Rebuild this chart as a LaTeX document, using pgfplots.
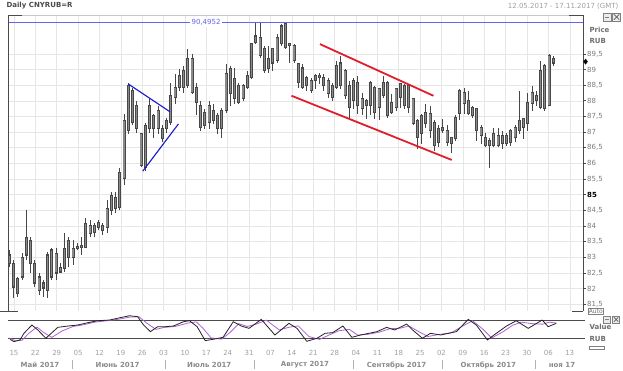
\documentclass[border=0pt]{standalone}
\usepackage{pgfplots}
\pgfplotsset{compat=1.18}
\usepackage{pgfplotstable}
\usepackage{fontspec}
\setmainfont{DejaVu Sans}
\definecolor{gridcol}{HTML}{E6E6E6}
\definecolor{axdark}{HTML}{4A4A4A}
\definecolor{ticklab}{HTML}{7A7A7A}
\definecolor{lvlblue}{HTML}{6464EE}
\definecolor{trblue}{HTML}{1818C8}
\definecolor{trred}{HTML}{E01E2C}
\definecolor{candleout}{HTML}{474747}
\definecolor{candlein}{HTML}{8A8A8A}
\definecolor{stK}{HTML}{222222}
\definecolor{stD}{HTML}{B05FD6}
\definecolor{datecol}{HTML}{A0A0A0}
\definecolor{monthcol}{HTML}{8A8A8A}

\pgfplotstableread{
k H L T B
0 83.23 82.68 83.07 82.81
1 82.91 81.70 82.81 82.05
2 82.37 81.73 82.33 81.85
3 83.13 82.27 83.00 82.37
4 84.50 82.91 83.64 83.07
5 83.64 82.50 83.54 82.81
6 82.91 82.05 82.81 82.18
7 82.50 81.79 82.37 81.95
8 82.27 81.73 82.18 82.02
9 83.16 81.70 83.07 81.95
10 83.29 82.27 83.23 82.37
11 83.29 82.27 83.13 82.50
12 82.81 82.50 82.68 82.53
13 83.77 82.53 83.29 82.65
14 83.64 82.68 83.54 83.00
15 83.54 82.75 83.29 83.00
16 83.45 83.23 83.35 83.29
17 83.64 83.07 83.38 83.32
18 84.25 83.29 84.09 83.32
19 84.18 83.64 84.02 83.77
20 84.09 83.64 84.02 83.80
21 84.18 83.86 84.12 83.96
22 84.09 83.70 84.02 83.86
23 84.82 83.77 84.56 83.96
24 85.07 84.34 84.98 84.50
25 85.07 84.40 84.92 84.56
26 85.84 84.50 85.71 84.60
27 87.59 85.30 87.37 85.52
28 88.58 86.95 88.48 87.05
29 88.42 87.21 88.32 87.30
30 88.00 86.98 87.84 87.11
31 86.98 85.87 86.95 85.93
32 87.30 85.77 87.21 85.87
33 88.07 86.98 87.84 87.11
34 87.59 86.82 87.53 87.11
35 87.84 86.95 87.68 87.11
36 87.21 86.67 87.11 86.79
37 87.46 86.98 87.37 87.11
38 88.58 87.21 88.16 87.30
39 88.86 87.91 88.42 88.10
40 89.02 88.32 88.80 88.42
41 89.12 88.26 88.96 88.42
42 89.66 88.42 89.34 88.48
43 89.50 88.23 89.34 88.26
44 88.58 87.53 88.42 87.94
45 88.00 87.05 87.84 87.14
46 87.75 87.11 87.62 87.21
47 88.00 87.11 87.84 87.30
48 87.91 87.27 87.68 87.37
49 87.62 86.95 87.53 87.11
50 87.78 86.82 87.68 87.11
51 89.18 87.62 88.86 87.68
52 89.12 87.84 89.02 88.23
53 89.05 87.91 88.70 88.07
54 88.58 87.91 88.48 87.94
55 88.55 88.00 88.48 88.07
56 88.96 88.39 88.80 88.42
57 89.85 88.70 89.82 88.74
58 90.49 89.82 90.07 89.85
59 90.49 89.37 90.01 89.44
60 89.76 88.90 89.66 88.96
61 89.76 88.90 89.34 89.02
62 89.69 88.96 89.66 89.21
63 90.14 89.21 90.01 89.28
64 90.46 89.76 90.39 89.82
65 90.49 89.66 90.46 89.69
66 89.85 89.21 89.82 89.76
67 89.82 89.21 89.76 89.28
68 89.21 88.42 89.18 88.58
69 89.18 88.39 89.05 88.42
70 88.80 88.32 88.74 88.48
71 88.74 88.26 88.64 88.32
72 88.86 88.39 88.80 88.64
73 88.90 88.55 88.80 88.74
74 88.86 88.32 88.74 88.48
75 88.74 88.10 88.64 88.23
76 88.58 88.00 88.48 88.10
77 89.28 88.39 89.12 88.42
78 89.44 88.39 89.21 88.48
79 89.02 88.07 88.96 88.16
80 88.64 87.46 88.48 87.78
81 88.74 87.75 88.64 88.00
82 88.80 87.59 88.58 87.84
83 88.26 87.53 88.07 87.75
84 88.07 87.43 88.00 87.84
85 88.64 87.53 88.58 87.84
86 88.48 87.43 88.42 87.62
87 88.42 87.37 88.39 87.78
88 88.80 88.10 88.58 88.16
89 88.64 87.46 88.58 87.53
90 88.23 87.59 87.94 87.62
91 88.42 87.68 88.39 87.78
92 88.58 87.78 88.55 88.10
93 88.55 87.75 88.48 87.84
94 88.55 87.62 88.48 87.78
95 88.10 87.21 88.07 87.27
96 87.43 86.47 87.37 86.82
97 87.59 86.63 87.53 86.95
98 87.91 87.14 87.62 87.27
99 87.84 86.82 87.59 87.05
100 87.37 86.41 87.30 86.57
101 87.21 86.51 87.11 86.67
102 87.43 86.98 87.14 87.05
103 87.21 86.57 87.05 86.67
104 86.82 86.32 86.82 86.63
105 87.53 86.73 87.46 86.79
106 88.39 87.37 88.32 87.59
107 88.42 87.59 88.26 87.91
108 88.32 87.53 88.00 87.59
109 87.84 87.46 87.78 87.53
110 87.78 86.73 87.75 87.05
111 87.21 86.63 87.14 86.89
112 86.98 86.51 86.82 86.57
113 86.82 85.84 86.73 86.57
114 87.14 86.51 86.95 86.57
115 87.14 86.51 86.89 86.57
116 87.05 86.47 86.89 86.63
117 86.98 86.57 86.89 86.63
118 87.11 86.57 87.05 86.67
119 87.21 86.67 87.14 86.82
120 88.32 86.95 87.37 87.05
121 87.46 86.79 87.43 87.14
122 88.26 87.05 87.94 87.27
123 88.48 87.68 88.26 87.91
124 88.32 87.84 88.16 88.00
125 89.28 87.75 88.96 87.78
126 89.18 87.68 89.12 87.75
127 89.50 87.84 89.44 87.84
128 89.44 89.12 89.34 89.21
}\candles

\pgfplotstableread{
x v
0.16 15.4
1.09 7.3
2.5 13.1
3.44 36.2
5.32 65.1
6.72 47.8
8.6 18.9
11.4 57
13.76 61.6
16.1 65.1
18.45 73.2
20.8 80.1
23.6 82.5
26.4 91.7
28.3 97.5
30.2 94
31.6 65.1
33.2 42
34.9 59.3
36.7 59.3
38.6 61.6
41 76.7
42.4 80.1
44.2 59.3
46.1 10.7
48 15.4
50.3 22.3
52.7 76.7
54.6 61.6
56.4 53.5
59.3 84.8
62.5 30.4
65.8 70.9
67.7 53.5
70 8.4
72.4 18.9
74.3 36.2
76.1 38.5
78.5 61.6
80.6 22.3
82.7 30.4
84.6 36.2
86.5 42
88.8 57
90.7 47.8
93.5 68.6
94.9 47.8
97.2 18.9
99.1 36.2
101.5 30.4
105.2 42
108 84.8
109.9 65.1
112.5 13.1
114.6 36.2
117 61.6
119.3 80.1
122.1 53.5
125.4 82.5
126.8 59.3
128.7 70.9
}\stochK

\pgfplotstableread{
x v
0 20
1.5 10
3 12
4.5 35
6.5 58
8 40
10 22
12.5 45
15 60
17.5 66
20 75
23 80
26 86
28.5 93
30.5 94
32.5 70
34.5 50
36.5 57
39 60
42 72
44 76
45.5 55
47.5 20
50 16
52 40
54 70
56 60
58 68
60.5 82
63.5 48
66 58
68 62
70.5 25
73 15
75.5 32
77.5 45
80 50
82 30
84.5 33
87 40
89.5 52
92 54
94 62
96 45
98.5 25
101 32
104 38
106.5 60
109 80
111.5 50
113.5 20
116 40
118.5 65
120.5 75
123 70
125.5 68
127 75
128.7 72
}\stochD

\pgfplotsset{every tick label/.append style={font=\fontsize{7}{8}\selectfont}}

\begin{document}
\begin{tikzpicture}[font=\fontsize{7}{8}\selectfont]
\path[use as bounding box] (0pt,0pt) rectangle (623pt,370pt);

% ---------- main price panel ----------
\begin{axis}[
  at={(8pt,59pt)}, anchor=south west, scale only axis,
  width=575pt, height=296pt,
  xmin=-0.31, xmax=135, ymin=81.284, ymax=90.74,
  axis line style={draw=none},
  xtick={1.1,6.13,11.16,16.19,21.22,26.25,31.28,36.31,41.34,46.37,51.4,56.43,61.46,66.49,71.52,76.55,81.58,86.61,91.64,96.67,101.7,106.73,111.76,116.79,121.82,126.85,131.88},
  xticklabels={}, xtick style={draw=none},
  ytick={81.5,82,82.5,83,83.5,84,84.5,85,85.5,86,86.5,87,87.5,88,88.5,89,89.5},
  yticklabels={{81,5},82,{82,5},83,{83,5},84,{84,5},{\color{black}\bfseries 85},{85,5},86,{86,5},87,{87,5},88,{88,5},89,{89,5}},
  ytick pos=right, yticklabel pos=right, tick align=outside,
  major tick length=3pt, ytick style={draw=axdark, line width=0.6pt},
  yticklabel style={text=ticklab, anchor=west, inner sep=1pt},
  grid=major, major grid style={draw=gridcol, line width=0.5pt},
  clip=false,
]
% wicks
\addplot[candleout, line width=0.8pt, mark=none, quiver={u=0, v=\thisrow{H}-\thisrow{L}}]
  table[x=k, y=L] {\candles};
% bodies
\addplot[candleout, line width=3pt, mark=none, quiver={u=0, v=\thisrow{T}-\thisrow{B}+0.04}]
  table[x=k, y expr={\thisrow{B}-0.02}] {\candles};
\addplot[candlein, line width=1.3pt, mark=none, quiver={u=0, v={max(\thisrow{T}-\thisrow{B}-0.04,0)}}]
  table[x=k, y expr={\thisrow{B}+0.02}] {\candles};

% level line
\addplot[lvlblue, line width=1pt] coordinates {(-0.31,90.4952) (135,90.4952)};
\node[fill=white, text=lvlblue, inner sep=1.5pt] at (axis cs:46.3,90.4952) {90,4952};

% blue triangle
\addplot[trblue, line width=1.1pt] coordinates {(28.0,88.535) (37.8,87.65)};
\addplot[trblue, line width=1.1pt] coordinates {(31.4,85.75) (39.8,87.26)};
% red channel
\addplot[trred, line width=1.8pt] coordinates {(73.1,89.81) (99.8,88.16)};
\addplot[trred, line width=1.8pt] coordinates {(66.4,88.16) (104.1,86.11)};

% current price marker
\addplot[only marks, mark=diamond*, mark size=2.6pt, black] coordinates {(135.6,89.25)};

% frame
\draw[gridcol!70!gray, line width=0.6pt] (rel axis cs:0,1) -- (rel axis cs:1,1);
\draw[axdark, line width=0.8pt] (rel axis cs:0,0) -- (rel axis cs:0,1) -- ++(14pt,0pt);
\draw[axdark, line width=0.8pt] (rel axis cs:1,0) -- (rel axis cs:1,1) -- ++(-14pt,0pt);
\end{axis}

% ---------- stochastic panel ----------
\begin{axis}[
  at={(8pt,24pt)}, anchor=south west, scale only axis,
  width=575pt, height=33pt,
  xmin=-0.31, xmax=135, ymin=-8, ymax=107,
  axis line style={draw=none},
  ytick=\empty,
  xtick={1.1,6.13,11.16,16.19,21.22,26.25,31.28,36.31,41.34,46.37,51.4,56.43,61.46,66.49,71.52,76.55,81.58,86.61,91.64,96.67,101.7,106.73,111.76,116.79,121.82,126.85,131.88},
  xticklabels={15,22,29,05,12,19,26,03,10,17,24,31,07,14,21,28,04,11,18,25,02,09,16,23,30,06,13},
  xtick style={draw=none},
  xticklabel style={text=datecol, inner sep=2pt, yshift=-2pt},
  clip=false,
]
\addplot[axdark, line width=0.8pt] coordinates {(-0.31,80) (135.5,80)};
\addplot[axdark, line width=0.8pt] coordinates {(-0.31,20) (135.5,20)};
\addplot[stD, line width=0.8pt] table[x=x, y=v] {\stochD};
\addplot[stK, line width=0.8pt] table[x=x, y=v] {\stochK};
\end{axis}

% ---------- texts and decorations ----------
\node[anchor=west, text=axdark, font=\fontsize{7}{8}\selectfont\bfseries] at (3pt,364pt) {Daily CNYRUB=R};
\node[anchor=east, text=datecol] at (622pt,364pt) {12.05.2017 - 17.11.2017 (GMT)};

\node[anchor=west, text=axdark!80, font=\fontsize{7}{8}\selectfont\bfseries] at (586pt,340pt) {Price};
\node[anchor=west, text=axdark!80, font=\fontsize{7}{8}\selectfont\bfseries] at (586pt,329pt) {RUB};
\node[anchor=west, text=axdark!80, font=\fontsize{7}{8}\selectfont\bfseries] at (586pt,43pt) {Value};
\node[anchor=west, text=axdark!80, font=\fontsize{7}{8}\selectfont\bfseries] at (586pt,31pt) {RUB};
\draw[gray, line width=0.5pt] (589pt,21pt) rectangle (604pt,24pt);

% Auto box
\node[draw=gray, text=axdark!80, inner sep=0.6pt, anchor=south west, font=\fontsize{6}{6.5}\selectfont] at (588pt,56pt) {Auto};

% window icons
\foreach \yy/\ss in {349/8,47/7} {
  \draw[gray, fill=gray!15, line width=0.5pt] (603pt,\yy pt) rectangle ++(\ss pt,\ss pt);
  \draw[gray, line width=0.6pt] (604.8pt,\yy pt + 0.5*\ss pt) -- ++(0.55*\ss pt,0pt);
  \draw[gray, fill=gray!15, line width=0.5pt] (612.5pt,\yy pt) rectangle ++(\ss pt,\ss pt);
  \draw[gray!70!black, line width=0.7pt] (613.8pt,\yy pt + 1.3pt) -- ++(\ss pt - 2.6pt,\ss pt - 2.6pt);
  \draw[gray!70!black, line width=0.7pt] (613.8pt,\yy pt + \ss pt - 1.3pt) -- ++(\ss pt - 2.6pt,-\ss pt + 2.6pt);
}

% separator stubs
\draw[axdark, line width=0.8pt] (0pt,59pt) -- (18pt,59pt);
\draw[axdark, line width=0.8pt] (572pt,59pt) -- (583pt,59pt);

% month labels
\foreach \xx/\tt in {40/{Май 2017},117.6/{Июнь 2017},209.3/{Июль 2017},305/{Август 2017},396.6/{Сентябрь 2017},488.3/{Октябрь 2017},562/{ноя 17}} {
  \node[text=monthcol, font=\fontsize{7}{8}\selectfont\bfseries] at (\xx pt,5pt) {\tt};
}
\foreach \xx in {71.8,165.4,254,352.8,442.5,535.3} {
  \draw[gray!60, line width=0.6pt] (\xx pt,1pt) -- (\xx pt,10pt);
}
\end{tikzpicture}
\end{document}
